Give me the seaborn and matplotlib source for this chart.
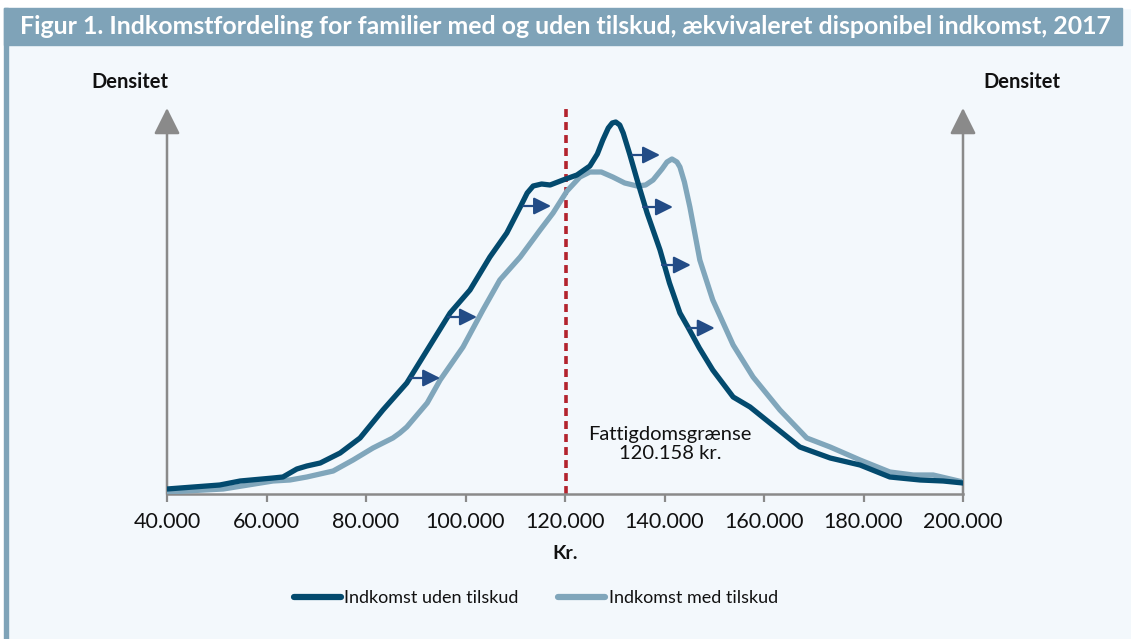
import matplotlib
matplotlib.use("Agg")
import numpy as np
import pandas as pd
import matplotlib.pyplot as plt
import matplotlib.patches as mpatches
import seaborn as sns

# Data (income in thousands of kr., relative density)
kr_uden = [40, 50.6, 54.7, 61.3, 63.3, 66.1, 68.1, 70.8, 74.8, 78.8, 83.4, 88.2, 92.3, 96.9,
           100.9, 104.9, 108.3, 111.0, 112.4, 113.6, 115.3, 117.0, 119.6, 122.4, 125.0, 126.5,
           127.6, 128.7, 129.5, 130.2, 131.0, 131.7, 133.0, 134.5, 136.5, 139.1, 141.0, 143.1,
           144.7, 147.0, 149.7, 153.8, 157.2, 161.2, 167.2, 173.3, 179.3, 185.3, 191.4, 196.0, 200]
dens_uden = [5, 9, 13, 16, 17, 25, 28, 31, 41, 56, 84, 111, 144, 181,
             204, 237, 261, 287, 301, 308, 310, 309, 314, 319, 328, 340,
             354, 366, 371, 372, 369, 361, 340, 314, 281, 244, 211, 181,
             167, 146, 124, 97, 87, 71, 47, 36, 29, 17, 14, 13, 11]

kr_med = [40, 51.3, 61.3, 64.7, 68.1, 73.4, 77.4, 81.4, 85.4, 86.8, 88.2, 92.3, 94.9, 99.5,
          103.5, 106.9, 111.0, 115.0, 117.6, 120.4, 123.0, 125.0, 127.3, 129.6, 132.0, 134.5,
          136.2, 137.7, 139.5, 140.5, 141.5, 142.5, 143.1, 144.0, 145.1, 147.1, 149.7, 153.8,
          157.8, 163.2, 168.6, 173.3, 179.3, 185.3, 190.0, 194.0, 200]
dens_med = [2, 5, 13, 14, 17, 23, 34, 46, 56, 61, 67, 91, 114, 147,
            184, 214, 237, 264, 281, 303, 317, 322, 322, 317, 311, 308,
            309, 314, 325, 332, 335, 332, 327, 312, 287, 234, 194, 149,
            117, 84, 56, 47, 34, 22, 19, 19, 12]

# shift arrows: start kr, end kr, density level
arrow_start = [88.8, 96.5, 111.6, 133.5, 135.7, 139.5, 144.7]
arrow_end = [94.9, 102.3, 117.2, 139.1, 141.7, 145.3, 150.1]
arrow_level = [116, 177, 288, 339, 287, 229, 166]

poverty_line = 120.158
x_ticks = [40, 60, 80, 100, 120, 140, 160, 180, 200]

title = "Figur 1. Indkomstfordeling for familier med og uden tilskud, ækvivaleret disponibel indkomst, 2017"

DARK = "#034a6e"
LIGHT = "#80a6bb"
BAR = "#7fa3b8"
BG = "#f3f8fc"
GREY = "#8a8a8a"
ARROW = "#234c86"

sns.set_theme(style="white")
plt.rcParams['font.family'] = ['Lato', 'DejaVu Sans']

W, H = 1131, 639
fig = plt.figure(figsize=(W / 100, H / 100), dpi=100, facecolor=BG)

# frame: white margins, left stripe and title bar
fig.patches.append(mpatches.Rectangle((0, 1 - 8 / H), 1, 8 / H, transform=fig.transFigure,
                                      color="white", zorder=0))
fig.patches.append(mpatches.Rectangle((0, 0), 4 / W, 1, transform=fig.transFigure,
                                      color="white", zorder=0))
fig.patches.append(mpatches.Rectangle((4 / W, 0), 4 / W, 1 - 8 / H, transform=fig.transFigure,
                                      color=BAR, zorder=1))
fig.patches.append(mpatches.Rectangle((4 / W, 1 - 45 / H), (1122 - 4) / W, 37 / H,
                                      transform=fig.transFigure, color=BAR, zorder=1))
fig.text(20 / W, 1 - 27 / H, title, color="white", fontsize=17.9, fontweight="bold",
         ha="left", va="center")

ax = fig.add_axes([167 / W, 145 / H, (963 - 167) / W, (494 - 108) / H])
ax.set_facecolor(BG)

df_uden = pd.DataFrame({"kr": kr_uden, "densitet": dens_uden})
df_med = pd.DataFrame({"kr": kr_med, "densitet": dens_med})
sns.lineplot(data=df_uden, x="kr", y="densitet", ax=ax, color=DARK, linewidth=3.8,
             label="Indkomst uden tilskud", zorder=4)
sns.lineplot(data=df_med, x="kr", y="densitet", ax=ax, color=LIGHT, linewidth=3.8,
             label="Indkomst med tilskud", zorder=3)
for ln in ax.lines:
    ln.set_solid_capstyle("round")
    ln.set_solid_joinstyle("round")

ax.set_xlim(40, 200)
ax.set_ylim(0, 386)

# poverty line
ax.axvline(poverty_line, ymin=0, ymax=0.997, color="#b3232d", linewidth=2.6,
           linestyle=(0, (2.2, 1.4)), zorder=2)
ax.text(poverty_line + 21, 50, "Fattigdomsgrænse\n120.158 kr.", ha="center", va="center",
        fontsize=14.5, color="#111111", linespacing=1.2)

# shift arrows
for x0, x1, yv in zip(arrow_start, arrow_end, arrow_level):
    ax.annotate("", xy=(x1, yv), xytext=(x0, yv),
                arrowprops=dict(arrowstyle="-|>,head_length=0.8,head_width=0.4",
                                color=ARROW, lw=1.6, shrinkA=0, shrinkB=0,
                                mutation_scale=13), zorder=5)

# axes: bottom spine + two vertical arrows
for s in ["top", "right", "left"]:
    ax.spines[s].set_visible(False)
ax.spines["bottom"].set_color(GREY)
ax.spines["bottom"].set_linewidth(1.8)
for xa in [0, 1]:
    ax.annotate("", xy=(xa, 1.0), xytext=(xa, 0), xycoords="axes fraction",
                arrowprops=dict(arrowstyle="-|>,head_length=0.8,head_width=0.4",
                                color=GREY, lw=1.8, shrinkA=0, shrinkB=0,
                                mutation_scale=20), zorder=1, annotation_clip=False)

ax.set_xticks(x_ticks)
ax.set_xticklabels([f"{int(t * 1000):,}".replace(",", ".") for t in x_ticks], fontsize=15.5)
ax.tick_params(axis="x", direction="out", length=6, width=1.6, color=GREY, pad=7,
               labelcolor="#111111", bottom=True)
ax.set_yticks([])
ax.set_xlabel("Kr.", fontsize=14, fontweight="bold", labelpad=9, color="#111111")
ax.set_ylabel("")

fig.text(130 / W, 1 - 82 / H, "Densitet", fontsize=14.5, fontweight="bold", ha="center",
         va="center", color="#111111")
fig.text(1022 / W, 1 - 82 / H, "Densitet", fontsize=14.5, fontweight="bold", ha="center",
         va="center", color="#111111")

leg = ax.legend(loc="center", bbox_to_anchor=(536 / W, 1 - 598 / H),
                bbox_transform=fig.transFigure, ncol=2, frameon=False, fontsize=13,
                handlelength=2.6, handletextpad=0.2, columnspacing=2.2)
for h in leg.get_lines():
    h.set_linewidth(4.5)
    h.set_solid_capstyle("round")
for t in leg.get_texts():
    t.set_color("#111111")

fig.savefig("out.png", dpi=100, facecolor=BG)
